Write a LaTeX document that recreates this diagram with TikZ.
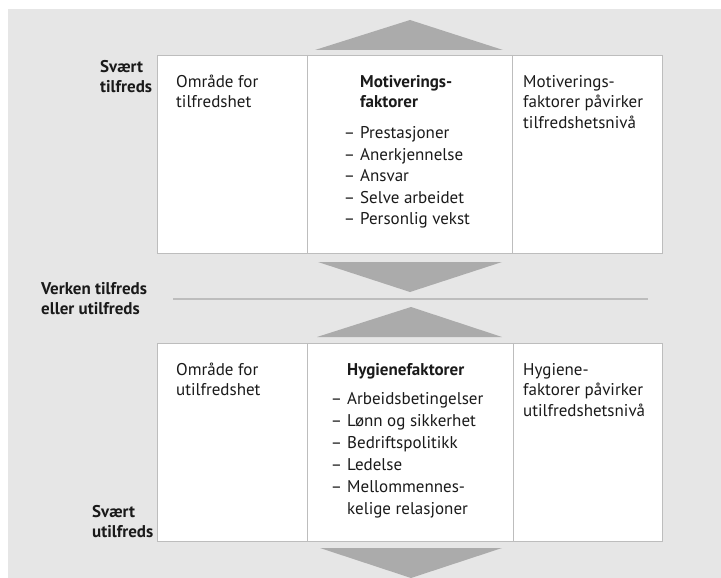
\documentclass[tikz,border=0pt]{standalone}
\usepackage{fontspec}
\setmainfont{PT Sans}
\usepackage{tikz}
\definecolor{paper}{HTML}{E6E6E6}
\definecolor{wedge}{HTML}{ABABAB}
\definecolor{rulegray}{HTML}{BDBDBD}
\definecolor{ink}{HTML}{1A1A1A}
\newcommand\itm{\llap{--\hspace{5pt}}}
\tikzset{panel style/.style={draw=rulegray, fill=white, line width=0.8pt}}
\tikzset{wedge style/.style={fill=wedge}}
\tikzset{tnode/.style={anchor=north west, align=left, inner sep=0pt, text=ink, font=\fontsize{17}{20.5}\selectfont}}
\tikzset{bnode/.style={tnode, font=\fontsize{17}{20.5}\selectfont\bfseries}}

\begin{document}
\begin{tikzpicture}[x=1pt, y=-1pt]
    \useasboundingbox (0,0) rectangle (721,578);
    \fill[white] (0,0) rectangle (721,578);
    \fill[paper] (8,9) rectangle (721,578);
    % wedges and middle rule
    \fill[wedge style] (315,50) -- (410,20) -- (503,50) -- cycle;
    \fill[wedge style] (318,262) -- (502,262) -- (410,292) -- cycle;
    \fill[wedge style] (317,337) -- (411,307) -- (502,337) -- cycle;
    \fill[wedge style] (320,548) -- (502,548) -- (411,578) -- cycle;
    \coordinate (ruleL) at (173,299);
    \coordinate (ruleR) at (648,299);
    \draw[rulegray, line width=1.2pt] (ruleL) -- (ruleR);
    % panels
    \filldraw[panel style] (157,55) rectangle (662,253);
    \draw[panel style] (307,55) -- (307,253) (512,55) -- (512,253);
    \filldraw[panel style] (157,343) rectangle (662,541);
    \draw[panel style] (307,343) -- (307,541) (513,343) -- (513,541);
    % upper row
    \path (100,57.5) node[bnode] (veryTop) {\strut Svært\\tilfreds};
    \path (176,72.5) node[tnode] (zoneTop) {\strut Område for\\tilfredshet};
    \path (360,72.5) node[bnode] (motivHead) {\strut Motiverings-\\faktorer};
    \path (360,123.5) node[tnode, font=\fontsize{17}{21.5}\selectfont] (motivList)
        {\strut\itm Prestasjoner\\\itm Anerkjennelse\\\itm Ansvar\\\itm Selve arbeidet\\\itm Personlig vekst};
    \path (523,72.5) node[tnode] (motivNote) {\strut Motiverings-\\faktorer påvirker\\tilfredshetsnivå};
    % middle
    \path (41,279.5) node[bnode] (neither) {\strut Verken tilfreds\\eller utilfreds};
    % lower row
    \path (176,360.5) node[tnode] (zoneBot) {\strut Område for\\utilfredshet};
    \path (347,360.5) node[bnode] (hygHead) {\strut Hygienefaktorer};
    \path (347,388.5) node[tnode, font=\fontsize{17}{22}\selectfont] (hygList)
        {\strut\itm Arbeidsbetingelser\\\itm Lønn og sikkerhet\\\itm Bedriftspolitikk\\\itm Ledelse\\\itm Mellommennes-\\kelige relasjoner};
    \path (523,360.5) node[tnode] (hygNote) {\strut Hygiene-\\faktorer påvirker\\utilfredshetsnivå};
    \path (92,502.5) node[bnode] (veryBot) {\strut Svært\\utilfreds};
\end{tikzpicture}
\end{document}
